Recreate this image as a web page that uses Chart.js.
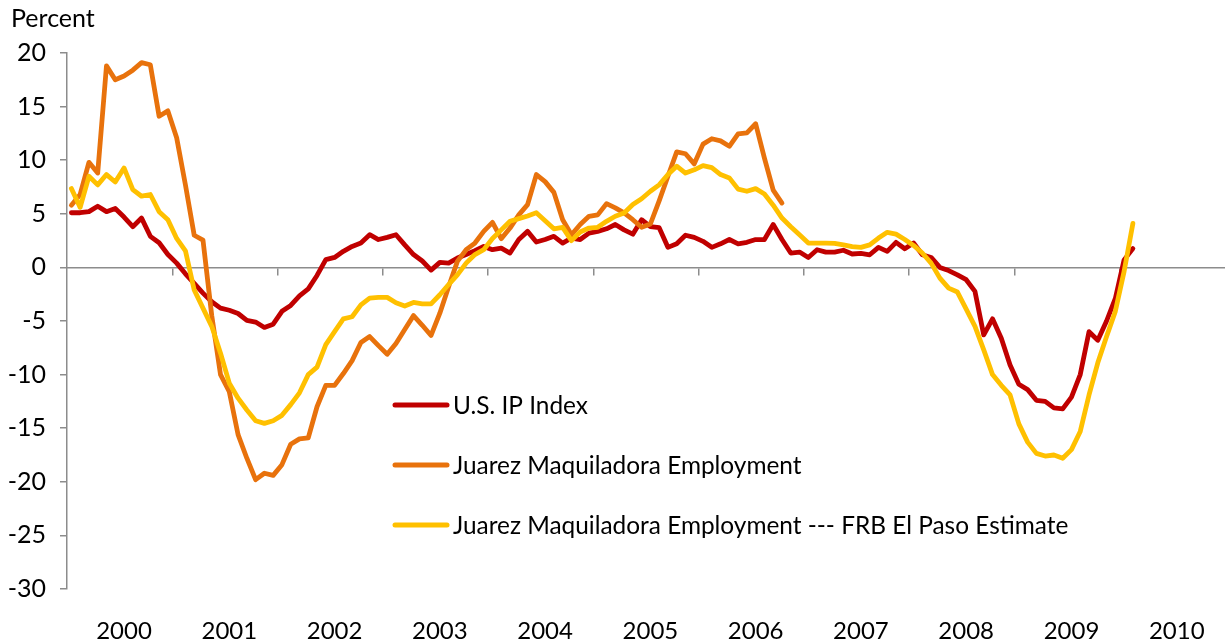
<!DOCTYPE html>
<html>
<head>
<meta charset="utf-8">
<script src="https://cdn.jsdelivr.net/npm/chart.js@4/dist/chart.umd.min.js"></script>
<style>
  html, body { margin: 0; padding: 0; background: #fff; }
  #wrap { width: 1225px; height: 639px; position: relative; }
</style>
</head>
<body>
<div id="wrap"><canvas id="chart"></canvas></div>
<script>
// Year labels on the bottom axis (12 monthly points per year)
const years = ['2000', '2001', '2002', '2003', '2004', '2005', '2006', '2007', '2008', '2009', '2010'];

// y axis range / ticks
const yMin = -30;
const yMax = 20;
const yStep = 5;

const seriesNames = [
    'U.S. IP Index',
    'Juarez Maquiladora Employment',
    'Juarez Maquiladora Employment --- FRB El Paso Estimate'
];

// U.S. IP Index, Jan 2000 - Feb 2010 (percent)
const usIP = [
    5.1, 5.1, 5.2, 5.7, 5.2, 5.5, 4.7, 3.8, 4.6, 2.9, 2.3, 1.2,
    0.4, -0.6, -1.5, -2.4, -3.2, -3.8, -4.0, -4.3, -4.95, -5.1, -5.6, -5.3,
    -4.1, -3.55, -2.65, -2.0, -0.75, 0.72, 0.93, 1.5, 1.96, 2.27, 3.05, 2.6,
    2.8, 3.05, 2.1, 1.2, 0.6, -0.25, 0.47, 0.4, 0.87, 1.2, 1.56, 1.96,
    1.65, 1.8, 1.34, 2.6, 3.36, 2.37, 2.6, 2.9, 2.27, 2.74, 2.6, 3.2,
    3.36, 3.6, 4.0, 3.5, 3.1, 4.45, 3.8, 3.7, 1.87, 2.2, 3.0, 2.8,
    2.43, 1.87, 2.2, 2.6, 2.2, 2.34, 2.6, 2.6, 4.0, 2.6, 1.34, 1.43,
    0.93, 1.65, 1.43, 1.43, 1.6, 1.25, 1.3, 1.18, 1.87, 1.5, 2.34, 1.74,
    2.27, 1.18, 0.93, 0.0, -0.3, -0.7, -1.15, -2.24, -6.3, -4.8, -6.6, -9.1,
    -10.9, -11.4, -12.4, -12.5, -13.1, -13.2, -12.1, -10.0, -6.0, -6.8, -5.0, -2.9,
    0.7, 1.75
];

// Juarez maquiladora employment, Jan 2000 - Oct 2006
const juarez = [
    5.8, 6.8, 9.8, 8.8, 18.8, 17.5, 17.85, 18.4, 19.1, 18.9, 14.1, 14.6,
    12.1, 7.7, 3.0, 2.55, -4.5, -10.0, -11.6, -15.6, -17.8, -19.8, -19.2, -19.4,
    -18.4, -16.5, -16.0, -15.9, -13.0, -11.0, -11.0, -9.9, -8.7, -7.0, -6.45, -7.3,
    -8.1, -7.1, -5.8, -4.5, -5.4, -6.35, -4.27, -1.8, 0.56, 1.65, 2.27, 3.36,
    4.2, 2.68, 3.67, 4.9, 5.86, 8.66, 8.0, 7.0, 4.45, 3.05, 4.0, 4.77,
    4.9, 5.95, 5.55, 5.08, 4.45, 3.74, 4.05, 6.2, 8.5, 10.78, 10.6, 9.66,
    11.5, 12.0, 11.8, 11.3, 12.46, 12.55, 13.4, 10.2, 7.2, 6.0
];

// FRB El Paso estimate, Jan 2000 - Feb 2010
const juarezEst = [
    7.35, 5.6, 8.5, 7.7, 8.66, 7.97, 9.28, 7.26, 6.64, 6.8, 5.2, 4.45,
    2.7, 1.55, -2.1, -3.8, -5.5, -8.0, -10.8, -12.2, -13.3, -14.3, -14.55, -14.3,
    -13.8, -12.8, -11.7, -10.0, -9.3, -7.2, -6.0, -4.8, -4.6, -3.5, -2.87, -2.8,
    -2.8, -3.3, -3.6, -3.27, -3.4, -3.4, -2.55, -1.6, -0.7, 0.4, 1.2, 1.65,
    2.7, 3.5, 4.3, 4.55, 4.8, 5.1, 4.36, 3.6, 3.74, 2.5, 3.3, 3.67,
    3.74, 4.3, 4.77, 5.08, 5.86, 6.4, 7.1, 7.7, 8.66, 9.44, 8.8, 9.1,
    9.5, 9.3, 8.66, 8.35, 7.3, 7.1, 7.35, 6.85, 5.8, 4.6, 3.8, 3.05,
    2.27, 2.27, 2.27, 2.24, 2.1, 1.93, 1.87, 2.1, 2.74, 3.27, 3.1, 2.6,
    2.05, 1.34, 0.4, -1.0, -1.93, -2.3, -3.9, -5.5, -7.7, -10.0, -11.0, -11.9,
    -14.6, -16.3, -17.35, -17.6, -17.5, -17.8, -17.0, -15.3, -11.9, -8.9, -6.45, -4.1,
    -0.37, 4.1
];

// monthly category labels built from the years
const months = [];
years.forEach(y => {
    for (let m = 1; m <= 12; m++) months.push(y + '-' + String(m).padStart(2, '0'));
});

const FONT = 'Lato, "Open Sans", sans-serif';
const AXIS_GRAY = '#8c8c8c';

// legend drawn inside the plot, left aligned under the curves
const insideLegend = {
    id: 'insideLegend',
    afterDraw(chart, args, opts) {
        const ctx = chart.ctx;
        ctx.save();
        ctx.font = opts.fontSize + 'px ' + FONT;
        ctx.textBaseline = 'middle';
        chart.data.datasets.forEach((ds, i) => {
            const y = opts.y + i * opts.gap;
            ctx.strokeStyle = ds.borderColor;
            ctx.lineWidth = 5;
            ctx.lineCap = 'round';
            ctx.beginPath();
            ctx.moveTo(opts.x, y);
            ctx.lineTo(opts.x + opts.lineLen, y);
            ctx.stroke();
            ctx.fillStyle = '#000';
            ctx.fillText(ds.label, opts.x + opts.lineLen + 6, y + 1);
        });
        ctx.restore();
    }
};

// "Percent" unit label above the y axis
const unitLabel = {
    id: 'unitLabel',
    afterDraw(chart) {
        const ctx = chart.ctx;
        ctx.save();
        ctx.font = '25px ' + FONT;
        ctx.fillStyle = '#000';
        ctx.textBaseline = 'middle';
        ctx.fillText('Percent', 11, 19);
        ctx.restore();
    }
};

new Chart(document.getElementById('chart'), {
    type: 'line',
    data: {
        labels: months,
        datasets: [
            { label: seriesNames[0], data: usIP, borderColor: '#C00000', order: 2 },
            { label: seriesNames[1], data: juarez, borderColor: '#E8720C', order: 1 },
            { label: seriesNames[2], data: juarezEst, borderColor: '#FFC000', order: 0 }
        ]
    },
    options: {
        responsive: true,
        maintainAspectRatio: false,
        animation: false,
        layout: { padding: { top: 53, left: 0, right: 0, bottom: 0 } },
        elements: {
            point: { radius: 0 },
            line: { borderWidth: 4.8, tension: 0, borderJoinStyle: 'round', borderCapStyle: 'round' }
        },
        plugins: {
            legend: { display: false },
            tooltip: { enabled: false },
            insideLegend: { x: 395, y: 405, gap: 60, lineLen: 52, fontSize: 24.4 }
        },
        scales: {
            x: {
                type: 'category',
                offset: true,
                grid: { display: false, drawTicks: false },
                border: { display: false },
                ticks: {
                    autoSkip: false,
                    maxRotation: 0,
                    padding: 28,
                    color: '#000',
                    font: { family: FONT, size: 24 },
                    callback: (v, i) => (i % 12 === 6 ? years[Math.floor(i / 12)] : '')
                },
                afterFit: s => { s.height = 50; s.paddingLeft = 0; s.paddingRight = 0; }
            },
            xZero: {
                type: 'category',
                axis: 'x',
                offset: true,
                position: { y: 0 },
                ticks: { display: false },
                grid: {
                    offset: true,
                    drawOnChartArea: false,
                    tickLength: 7,
                    lineWidth: 1.5,
                    color: c => (c.index % 12 === 0 && c.index > 0 ? AXIS_GRAY : 'rgba(0,0,0,0)')
                },
                border: { color: AXIS_GRAY, width: 1.5 },
                afterFit: s => { s.paddingLeft = 0; s.paddingRight = 0; }
            },
            y: {
                min: yMin,
                max: yMax,
                ticks: {
                    stepSize: yStep,
                    padding: 14,
                    color: '#000',
                    font: { family: FONT, size: 25 }
                },
                grid: { drawOnChartArea: false, tickLength: 7, color: AXIS_GRAY, lineWidth: 1.5 },
                border: { color: AXIS_GRAY, width: 1.5 },
                afterFit: s => { s.width = 67; }
            }
        }
    },
    plugins: [insideLegend, unitLabel]
});
</script>
</body>
</html>
